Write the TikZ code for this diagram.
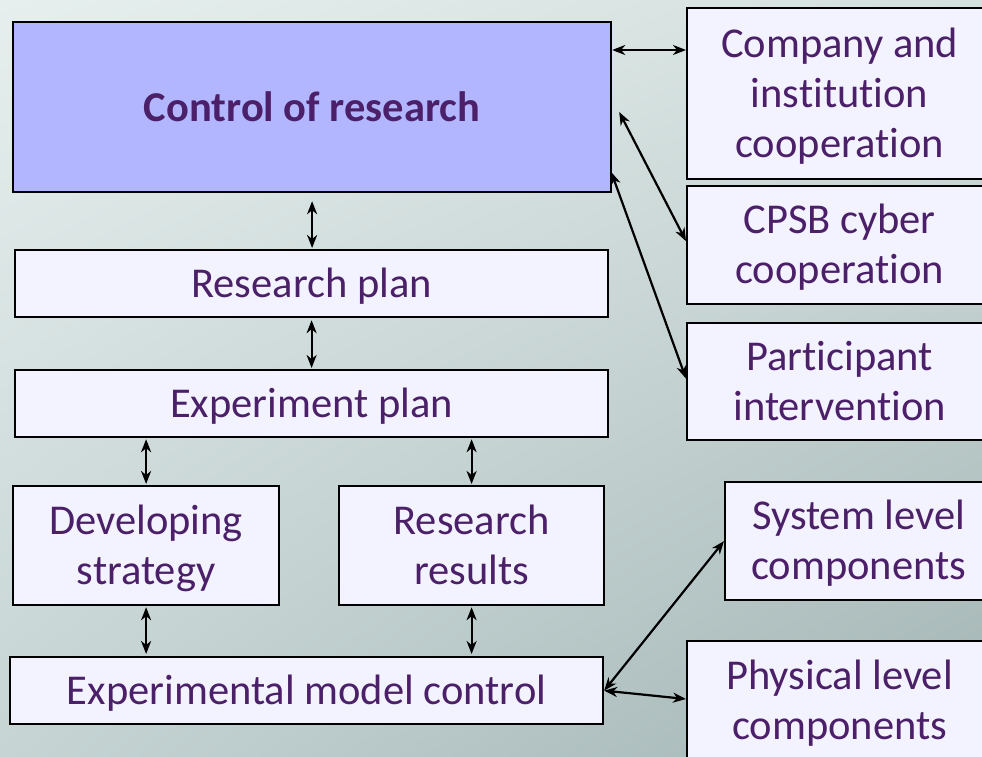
\documentclass[tikz,border=0pt]{standalone}
\usepackage{fontspec}
\setmainfont{Carlito}[Ligatures={NoCommon,NoContextual}]
\usetikzlibrary{arrows.meta,shadings}
\definecolor{txt}{HTML}{4B2068}
\definecolor{boxfill}{HTML}{F3F3FF}
\definecolor{ctrlfill}{HTML}{B2B6FF}
\definecolor{bgUL}{HTML}{E6EFEE}
\definecolor{bgUR}{HTML}{D4E0DE}
\definecolor{bgLL}{HTML}{C6D4D4}
\definecolor{bgLR}{HTML}{A2B4B4}
\tikzset{
  box/.style={draw=black, line width=2.2pt, fill=boxfill, text=txt, align=center,
    inner sep=0pt, anchor=north west, font=\fontsize{42.5}{50}\selectfont,
    text depth=2pt},
  arr/.style={black, line width=2.2pt, {Stealth[length=13pt,width=10pt,inset=4pt]}-{Stealth[length=13pt,width=10pt,inset=4pt]}}
}
\begin{document}
\begin{tikzpicture}[x=1pt,y=-1pt]
\useasboundingbox (0,0) rectangle (982,756);
\clip (0,0) rectangle (982,756);
\shade[upper left=bgUL, upper right=bgUR, lower left=bgLL, lower right=bgLR] (0,0) rectangle (982,756);

% left column
\node[box, fill=ctrlfill, minimum width=598pt, minimum height=170pt, font=\fontsize{42.5}{50}\selectfont\bfseries] (ctrl) at (12,21) {Control of research};
\node[box, minimum width=593pt, minimum height=67pt] (rp) at (14,249) {Research plan};
\node[box, minimum width=593pt, minimum height=67pt] (ep) at (14,369) {Experiment plan};
\node[box, minimum width=266pt, minimum height=119pt] (dev) at (12,485) {Developing\\strategy};
\node[box, minimum width=265pt, minimum height=119pt] (res) at (338,485) {Research\\results};
\node[box, minimum width=593pt, minimum height=67pt] (emc) at (9,656) {Experimental model control};

% right column
\node[box, minimum width=305pt, minimum height=171pt] (comp) at (686,7) {Company and\\institution\\cooperation};
\node[box, minimum width=305pt, minimum height=118pt] (cpsb) at (686,185) {CPSB cyber\\cooperation};
\node[box, minimum width=305pt, minimum height=117pt] (part) at (686,322) {Participant\\intervention};
\node[box, minimum width=267pt, minimum height=118pt] (sys) at (724,481) {System level\\components};
\node[box, minimum width=305pt, minimum height=120pt] (phys) at (686,640) {Physical level\\components};

% connectors
\coordinate (c1) at ([shift={(7,91)}]ctrl.north east);
\coordinate (c2) at ([shift={(-1,151)}]ctrl.north east);
\coordinate (p1) at ([shift={(0,59)}]phys.north west);

\draw[arr] ([yshift=-29pt]ctrl.north east) -- ([yshift=-29pt]ctrl.north east -| comp.west);
\draw[arr] (c1) -- ([yshift=4pt]cpsb.west);
\draw[arr] (c2) -- ([yshift=3pt]part.west);

\draw[arr, shorten <=8pt, shorten >=1pt] (ctrl.south) -- (ctrl.south |- rp.north);
\draw[arr, shorten <=2pt, shorten >=1pt] (rp.south) -- (rp.south |- ep.north);
\draw[arr, shorten <=1pt, shorten >=1pt] (ep.south -| dev.north) -- (dev.north);
\draw[arr, shorten <=1pt, shorten >=1pt] (ep.south -| res.north) -- (res.north);
\draw[arr, shorten <=1pt, shorten >=2pt] (dev.south) -- (dev.south |- emc.north);
\draw[arr, shorten <=1pt, shorten >=2pt] (res.south) -- (res.south |- emc.north);

\draw[arr] (emc.east) -- (sys.west);
\draw[arr] (emc.east) -- (p1);
\end{tikzpicture}
\end{document}
